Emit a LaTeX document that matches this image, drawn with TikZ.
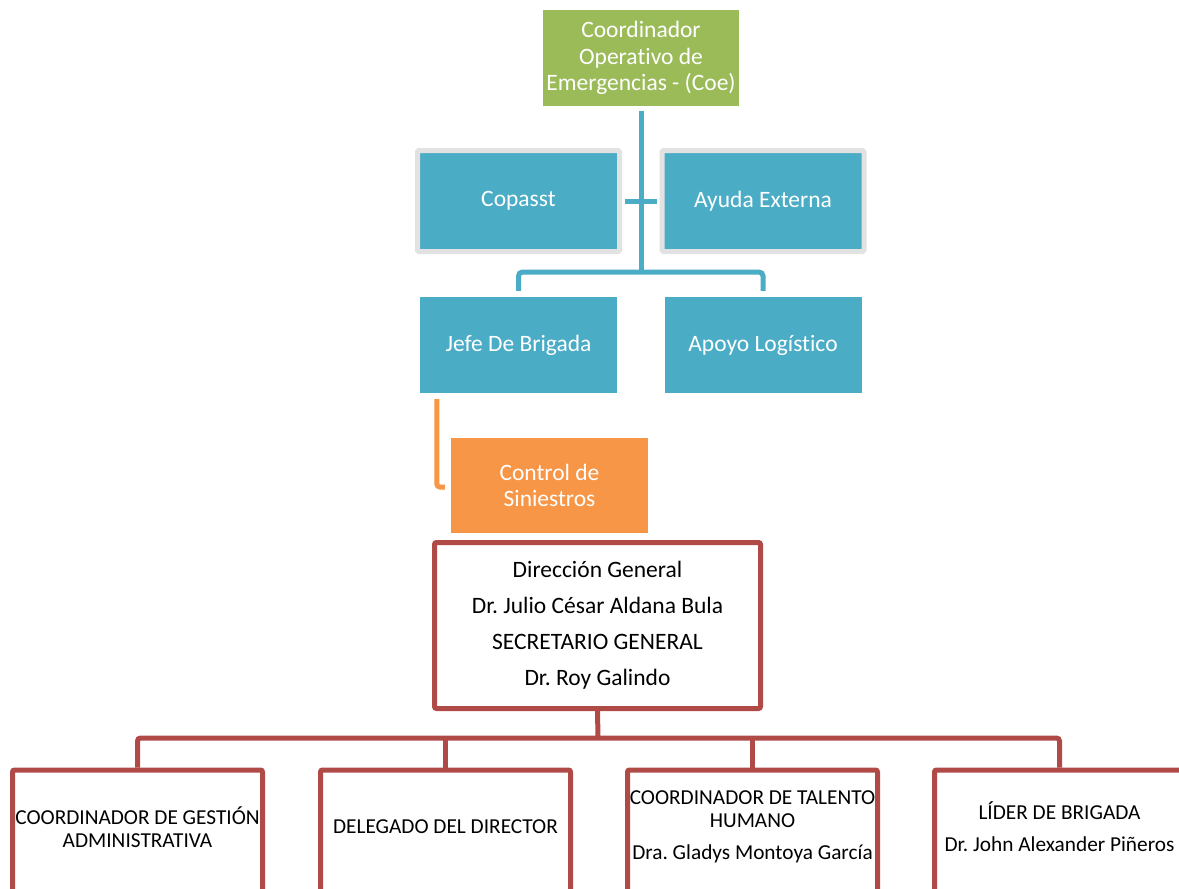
\documentclass[tikz,border=0pt]{standalone}
\usepackage{fontspec}
\setmainfont[Ligatures={NoCommon}]{Carlito}
\usepackage{xcolor}
\usepackage{tikz}
\usetikzlibrary{positioning}
\frenchspacing
\definecolor{CoeGreen}{RGB}{155,187,89}
\definecolor{BrigBlue}{RGB}{75,172,198}
\definecolor{SinOrange}{RGB}{247,150,70}
\definecolor{DirRed}{RGB}{176,74,71}
\definecolor{FrameGray}{RGB}{226,226,226}
\tikzset{
  topbox/.style={minimum width=197pt, minimum height=96pt, inner sep=2pt, align=center,
    text=white, font=\fontsize{23.5}{26.5}\selectfont},
  coebox/.style={topbox, fill=CoeGreen, minimum width=196pt},
  bluebox/.style={topbox, fill=BrigBlue},
  framedbox/.style={bluebox, draw=FrameGray, line width=5pt, rounded corners=1.5pt,
    minimum width=202pt, minimum height=101pt},
  sinbox/.style={topbox, fill=SinOrange, minimum height=95pt},
  redbox/.style={draw=DirRed, line width=5pt, rounded corners=2pt, fill=white, inner sep=0pt},
  unitbox/.style={redbox, minimum width=250pt, minimum height=150pt, anchor=north},
  unittext/.style={font=\fontsize{21.3}{22.5}\selectfont, align=center, inner sep=0pt},
  blueline/.style={BrigBlue, line width=5pt, rounded corners=4pt},
  orangeline/.style={SinOrange, line width=5pt, rounded corners=3pt},
  redline/.style={DirRed, line width=5pt, rounded corners=3pt},
}

\begin{document}
\begin{tikzpicture}[x=1pt, y=-1pt]
  \useasboundingbox (0,0) rectangle (1179,889);
  \clip (0,0) rectangle (1179,889);
  \fill[white] (0,0) rectangle (1179,889);

  \node[coebox] (coe) at (641,58) {Coordinador\\Operativo de\\Emergencias - (Coe)};
  \node[framedbox] (copasst) at (518.5,201) {Copasst};
  \node[framedbox] (ayuda) at (763,201) {Ayuda Externa};
  \node[bluebox] (jefe) at (518.5,345) {Jefe De Brigada};
  \node[bluebox] (apoyo) at (763,345) {Apoyo Logístico};
  \node[sinbox] (control) at (549.5,485.5) {Control de\\Siniestros};

  \node[redbox, minimum width=326pt, minimum height=166pt, align=center,
    font=\fontsize{23.5}{36}\selectfont] (dir) at (597.5,625.5)
    {Dirección General\\Dr. Julio César Aldana Bula\\SECRETARIO GENERAL\\Dr. Roy Galindo};

  \node[unitbox] (gestionbox) at (137.5,767.5) {};
  \node[unitbox] (delegadobox) at (445.5,767.5) {};
  \node[unitbox] (talentobox) at (752.5,767.5) {};
  \node[unitbox] (liderbox) at (1059.5,767.5) {};
  \node[unittext] (gestion) at (137.5,827) {COORDINADOR DE GESTIÓN\\ADMINISTRATIVA};
  \node[unittext] (delegado) at (445.5,827) {DELEGADO DEL DIRECTOR};
  \node[unittext] (talento) at (752.5,827) {COORDINADOR DE TALENTO\\HUMANO\\[10pt]Dra. Gladys Montoya García};
  \node[unittext] (lider) at (1059.5,826.5) {LÍDER DE BRIGADA\\[10pt]Dr. John Alexander Piñeros};

  \coordinate (bbar) at (641,272);
  \draw[blueline] ([yshift=-5pt]coe.south) -- (coe.south |- bbar);
  \draw[blueline, shorten <=2.5pt, shorten >=2.5pt] (copasst.east) -- (ayuda.west);
  \draw[blueline] ([yshift=6pt]jefe.north) |- (bbar) -| ([yshift=6pt]apoyo.north);

  \draw[orangeline] ([xshift=17pt,yshift=-6pt]jefe.south west) |- ([xshift=-6pt,yshift=-1.5pt]control.west);

  \coordinate (rbar) at (598,738);
  \draw[redline] (dir.south) -- (rbar);
  \draw[redline] (gestionbox.north) |- (rbar) -| (liderbox.north);
  \draw[redline] (delegadobox.north) -- (delegadobox.north |- rbar);
  \draw[redline] (talentobox.north) -- (talentobox.north |- rbar);
\end{tikzpicture}
\end{document}
